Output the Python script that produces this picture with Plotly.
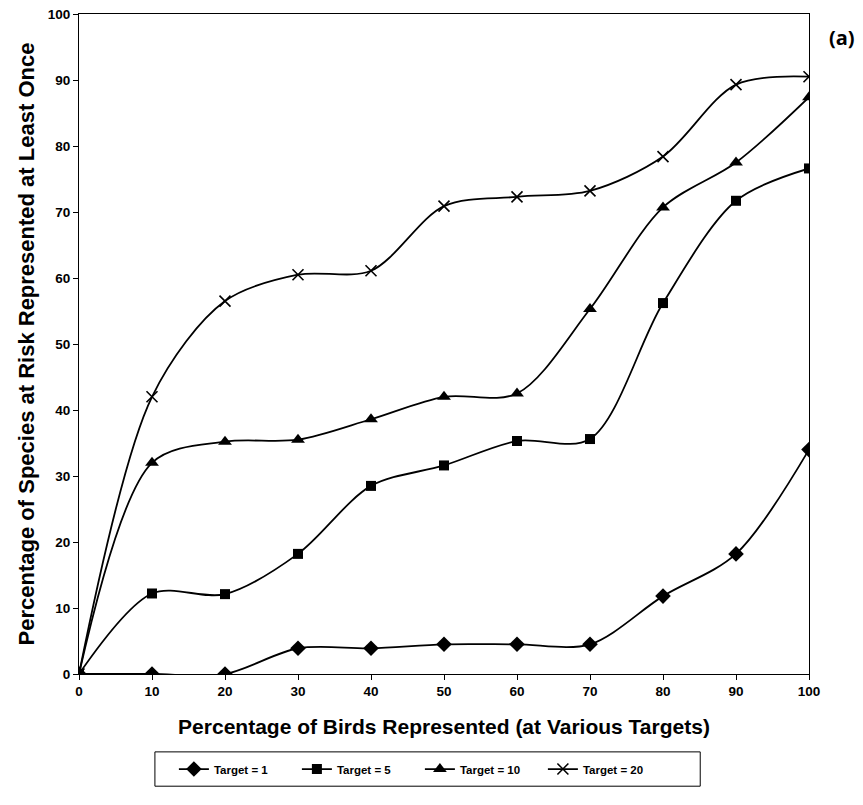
import plotly.graph_objects as go

x_vals = [0, 10, 20, 30, 40, 50, 60, 70, 80, 90, 100]
target_1 = [0, 0, 0, 3.9, 3.9, 4.5, 4.5, 4.5, 11.8, 18.2, 34.0]
target_5 = [0, 12.2, 12.1, 18.2, 28.5, 31.6, 35.3, 35.6, 56.2, 71.7, 76.6]
target_10 = [0, 32.0, 35.2, 35.5, 38.6, 42.0, 42.5, 55.3, 70.7, 77.5, 87.4]
target_20 = [0, 42.0, 56.5, 60.5, 61.1, 70.9, 72.3, 73.2, 78.4, 89.3, 90.5]

series = [
    ("Target = 1", target_1, "diamond", 12, 0),
    ("Target = 5", target_5, "square", 10, 0),
    ("Target = 10", target_10, "triangle-up", 12, 0),
    ("Target = 20", target_20, "x-thin", 11, 1.6),
]

FONT = "Liberation Sans, Arial, sans-serif"

fig = go.Figure()
for name, vals, sym, size, lw in series:
    fig.add_trace(go.Scatter(
        x=x_vals, y=vals, name=name, mode="lines+markers",
        line=dict(color="black", width=1.8, shape="spline", smoothing=0.9),
        marker=dict(symbol=sym, size=size, color="black",
                    line=dict(color="black", width=lw)),
    ))

fig.update_layout(
    width=855, height=797,
    margin=dict(l=71, r=54, t=6, b=131, autoexpand=False),
    paper_bgcolor="white", plot_bgcolor="white",
    font=dict(family=FONT, color="black"),
    showlegend=True,
    legend=dict(
        orientation="h", x=0.130, xanchor="left", y=-0.144, yanchor="middle",
        bgcolor="rgba(0,0,0,0)", borderwidth=0,
        font=dict(family=FONT, size=11.5, color="black", weight="bold"),
        entrywidth=78, itemwidth=30,
    ),
    shapes=[dict(
        type="rect", xref="paper", yref="paper",
        x0=0.104, x1=0.851, y0=-0.170, y1=-0.118,
        line=dict(color="black", width=1), fillcolor="rgba(0,0,0,0)",
    )],
    xaxis=dict(
        range=[0, 100], tickvals=x_vals, ticks="outside", ticklen=5,
        tickcolor="black", showline=True, linecolor="black", linewidth=1,
        mirror=True, showgrid=False, zeroline=False, automargin=False,
        ticklabeloverflow="allow",
        tickfont=dict(family=FONT, size=13.5, color="black", weight="bold"),
        title=dict(text="Percentage of Birds Represented (at Various Targets)",
                   font=dict(family=FONT, size=21, color="black", weight="bold"),
                   standoff=21),
    ),
    yaxis=dict(
        range=[0, 100], dtick=10, ticks="outside", ticklen=5,
        tickcolor="black", showline=True, linecolor="black", linewidth=1,
        mirror=True, showgrid=False, zeroline=False, automargin=False,
        ticklabeloverflow="allow",
        tickfont=dict(family=FONT, size=13.5, color="black", weight="bold"),
        title=dict(text="Percentage of Species at Risk Represented at Least Once",
                   font=dict(family=FONT, size=22, color="black", weight="bold"),
                   standoff=7),
    ),
    annotations=[dict(
        text="(a)", xref="paper", yref="paper", x=1.025, y=0.964,
        xanchor="left", yanchor="middle", showarrow=False,
        font=dict(family="Open Sans, sans-serif", size=20, color="black", weight="bold"),
    )],
)

fig.write_html("out.html")
